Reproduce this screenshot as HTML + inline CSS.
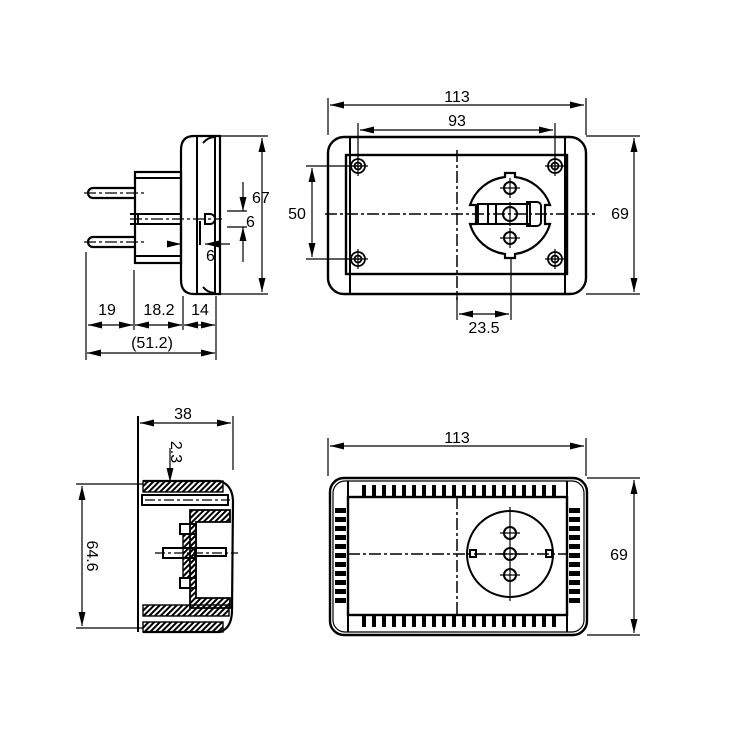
<!DOCTYPE html>
<html><head><meta charset="utf-8"><style>
html,body{margin:0;padding:0;background:#fff}
svg{display:block}
text{font-family:"Liberation Sans",Arial,sans-serif;font-size:16px;fill:#000}
</style></head><body>
<svg width="732" height="732" viewBox="0 0 732 732" xmlns="http://www.w3.org/2000/svg">
<defs>
<marker id="a" viewBox="0 0 14 7" refX="14" refY="3.5" markerWidth="14" markerHeight="7" markerUnits="userSpaceOnUse" orient="auto-start-reverse"><path d="M0,0L14,3.5L0,7z" fill="#000"/></marker>
<pattern id="h" width="4" height="4" patternUnits="userSpaceOnUse" patternTransform="rotate(45)"><rect width="2" height="4" fill="#000"/></pattern>
</defs>
<g fill="none" stroke="#000" stroke-width="2">

<!-- ===== TOP LEFT ===== -->
<path d="M194,136 L220,136 L220,294 L194,294 Q181,294 181,280 L181,150 Q181,136 194,136z" stroke-width="2.2"/>
<line x1="197" y1="136" x2="197" y2="294"/>
<line x1="215" y1="136" x2="215" y2="294"/>
<path d="M203,143 Q208,137 215,137 M203,287 Q208,293 215,293"/>
<rect x="135" y="172" width="46" height="91" stroke-width="2.2"/>
<line x1="135" y1="178" x2="181" y2="178"/>
<line x1="135" y1="256" x2="181" y2="256"/>
<path d="M135,188 L93,188 A5,5 0 0 0 93,198 L135,198" stroke-width="2.2"/>
<path d="M135,237 L93,237 A5,5 0 0 0 93,247 L135,247" stroke-width="2.2"/>
<line x1="130" y1="214" x2="181" y2="214"/>
<line x1="130" y1="224" x2="181" y2="224"/>
<line x1="138" y1="214" x2="138" y2="224"/>
<path d="M205,214 L210,214 A5,5 0 0 1 210,224 L205,224 Z"/>
<path d="M200,221 L200,245" />
<g stroke-dasharray="12,3,3,3" stroke-width="1.2">
<line x1="84" y1="193" x2="144" y2="193"/>
<line x1="84" y1="242" x2="144" y2="242"/>
<line x1="130" y1="219" x2="222" y2="219"/>
</g>
<g stroke-width="1.2">
<line x1="220" y1="136" x2="268" y2="136"/>
<line x1="220" y1="294" x2="268" y2="294"/>
<line x1="262" y1="138" x2="262" y2="292" marker-start="url(#a)" marker-end="url(#a)"/>
<line x1="227" y1="211" x2="247" y2="211"/>
<line x1="227" y1="227" x2="247" y2="227"/>
<line x1="243" y1="182" x2="243" y2="211" marker-end="url(#a)"/>
<line x1="243" y1="262" x2="243" y2="227" marker-end="url(#a)"/>
<line x1="175" y1="244" x2="181" y2="244" marker-end="url(#a)"/>
<line x1="230" y1="244" x2="205" y2="244" marker-end="url(#a)"/>
<line x1="86" y1="252" x2="86" y2="360"/>
<line x1="134" y1="270" x2="134" y2="330"/>
<line x1="183" y1="296" x2="183" y2="330"/>
<line x1="216" y1="296" x2="216" y2="360"/>
<line x1="88" y1="325" x2="133" y2="325" marker-start="url(#a)" marker-end="url(#a)"/>
<line x1="135" y1="325" x2="182" y2="325" marker-start="url(#a)" marker-end="url(#a)"/>
<line x1="184" y1="325" x2="215" y2="325" marker-start="url(#a)" marker-end="url(#a)"/>
<line x1="87" y1="353" x2="215" y2="353" marker-start="url(#a)" marker-end="url(#a)"/>
</g>

<!-- ===== TOP RIGHT ===== -->
<rect x="328" y="137" width="258" height="157" rx="16" stroke-width="2.4"/>
<rect x="346" y="155" width="221" height="119" stroke-width="2.4"/>
<line x1="350" y1="137" x2="350" y2="294"/>
<line x1="565" y1="137" x2="565" y2="294"/>
<g stroke-width="1.8">
<circle cx="358" cy="166" r="7"/><circle cx="358" cy="166" r="3.5"/>
<circle cx="555" cy="166" r="7"/><circle cx="555" cy="166" r="3.5"/>
<circle cx="358" cy="259" r="7"/><circle cx="358" cy="259" r="3.5"/>
<circle cx="555" cy="259" r="7"/><circle cx="555" cy="259" r="3.5"/>
<path d="M358,156v20M348,166h20M555,156v20M545,166h20M358,249v20M348,259h20M555,249v20M545,259h20" stroke-width="1.2"/>
</g>
<path d="M505,173 L505,177 A42,42 0 0 0 470,205 L476,205 L476,224 L470,224 A42,42 0 0 0 505,254 L505,258 L515,258 L515,254 A42,42 0 0 0 550,224 L545,224 L545,205 L550,205 A42,42 0 0 0 515,177 L515,173 Z" stroke-width="2.2"/>
<rect x="478" y="204" width="52" height="20"/>
<line x1="488" y1="204" x2="488" y2="224"/><line x1="496" y1="204" x2="496" y2="224"/>
<path d="M527,202 h10 a4,4 0 0 1 4,4 v16 a4,4 0 0 1 -4,4 h-10 z"/>
<circle cx="510" cy="188" r="6"/><circle cx="510" cy="214" r="7"/><circle cx="510" cy="238" r="6"/>
<path d="M510,178v20M500,188h20M500,238h20M510,228v20M510,202v24" stroke-width="1.2"/>
<g stroke-dasharray="12,3,3,3" stroke-width="1.5">
<line x1="457" y1="150" x2="457" y2="300"/>
<line x1="325" y1="214" x2="598" y2="214"/>
</g>
<g stroke-width="1.2">
<line x1="328" y1="98" x2="328" y2="135"/>
<line x1="586" y1="98" x2="586" y2="135"/>
<line x1="330" y1="105" x2="584" y2="105" marker-start="url(#a)" marker-end="url(#a)"/>
<line x1="358" y1="123" x2="358" y2="170"/>
<line x1="555" y1="123" x2="555" y2="170"/>
<line x1="360" y1="130" x2="553" y2="130" marker-start="url(#a)" marker-end="url(#a)"/>
<line x1="306" y1="166" x2="362" y2="166"/>
<line x1="306" y1="259" x2="362" y2="259"/>
<line x1="312" y1="168" x2="312" y2="257" marker-start="url(#a)" marker-end="url(#a)"/>
<line x1="586" y1="136" x2="640" y2="136"/>
<line x1="586" y1="294" x2="640" y2="294"/>
<line x1="634" y1="138" x2="634" y2="292" marker-start="url(#a)" marker-end="url(#a)"/>
<line x1="457" y1="294" x2="457" y2="320"/>
<line x1="511" y1="258" x2="511" y2="320"/>
<line x1="459" y1="314" x2="509" y2="314" marker-start="url(#a)" marker-end="url(#a)"/>
</g>

<!-- ===== BOTTOM LEFT ===== -->
<line x1="138" y1="416" x2="138" y2="632"/>
<line x1="233" y1="416" x2="233" y2="470" stroke-width="1.2"/>
<line x1="140" y1="423" x2="231" y2="423" stroke-width="1.2" marker-start="url(#a)" marker-end="url(#a)"/>
<line x1="170" y1="448" x2="170" y2="482" stroke-width="1.2" marker-end="url(#a)"/>
<line x1="76" y1="484" x2="143" y2="484" stroke-width="1.2"/>
<line x1="76" y1="628" x2="143" y2="628" stroke-width="1.2"/>
<line x1="82" y1="486" x2="82" y2="626" stroke-width="1.2" marker-start="url(#a)" marker-end="url(#a)"/>
<path d="M143,481 L220,481 Q232,485 233,500 L232,610 Q232,628 220,632 L143,632" stroke-width="2.2"/>
<rect x="143" y="481" width="80" height="11" fill="url(#h)" stroke-width="1.4"/>
<rect x="142" y="495" width="86" height="10"/>
<rect x="143" y="605" width="86" height="11" fill="url(#h)" stroke-width="1.4"/>
<rect x="143" y="622" width="80" height="10" fill="url(#h)" stroke-width="1.4"/>
<path d="M190,510 L230,510 L230,522 L196,522 L196,598 L230,598 L230,608 L190,608 Z" fill="url(#h)" stroke-width="1.8"/>
<rect x="180" y="524" width="16" height="10"/>
<rect x="180" y="578" width="16" height="10"/>
<rect x="183" y="534" width="13" height="44" fill="url(#h)" stroke-width="1.4"/>
<rect x="163" y="548" width="32" height="10"/>
<rect x="196" y="548" width="30" height="8"/>
<line x1="155" y1="553" x2="238" y2="553" stroke-width="1.2" stroke-dasharray="10,3,3,3"/>
<line x1="145" y1="500" x2="230" y2="500" stroke-width="1.2" stroke-dasharray="10,3,3,3"/>

<!-- ===== BOTTOM RIGHT ===== -->
<rect x="330" y="478" width="257" height="157" rx="14" stroke-width="2.4"/>
<rect x="333" y="481" width="251" height="151" rx="12" stroke-width="1.2"/>
<rect x="348" y="497" width="219" height="118" stroke-width="2.4"/>
<line x1="348" y1="481" x2="348" y2="632"/>
<line x1="567" y1="481" x2="567" y2="632"/>
<g fill="#000" stroke="none">
<path d="M362,485h4v11h-4zM372,485h4v11h-4zM382,485h4v11h-4zM392,485h4v11h-4zM402,485h4v11h-4zM412,485h4v11h-4zM422,485h4v11h-4zM432,485h4v11h-4zM442,485h4v11h-4zM452,485h4v11h-4zM462,485h4v11h-4zM472,485h4v11h-4zM482,485h4v11h-4zM492,485h4v11h-4zM502,485h4v11h-4zM512,485h4v11h-4zM522,485h4v11h-4zM532,485h4v11h-4zM542,485h4v11h-4zM552,485h4v11h-4z"/>
<path d="M362,616h4v11h-4zM372,616h4v11h-4zM382,616h4v11h-4zM392,616h4v11h-4zM402,616h4v11h-4zM412,616h4v11h-4zM422,616h4v11h-4zM432,616h4v11h-4zM442,616h4v11h-4zM452,616h4v11h-4zM462,616h4v11h-4zM472,616h4v11h-4zM482,616h4v11h-4zM492,616h4v11h-4zM502,616h4v11h-4zM512,616h4v11h-4zM522,616h4v11h-4zM532,616h4v11h-4zM542,616h4v11h-4zM552,616h4v11h-4z"/>
<path d="M335,508h11v5h-11zM335,517h11v5h-11zM335,526h11v5h-11zM335,535h11v5h-11zM335,544h11v5h-11zM335,553h11v5h-11zM335,562h11v5h-11zM335,571h11v5h-11zM335,580h11v5h-11zM335,589h11v5h-11zM335,598h11v5h-11z"/>
<path d="M569,508h11v5h-11zM569,517h11v5h-11zM569,526h11v5h-11zM569,535h11v5h-11zM569,544h11v5h-11zM569,553h11v5h-11zM569,562h11v5h-11zM569,571h11v5h-11zM569,580h11v5h-11zM569,589h11v5h-11zM569,598h11v5h-11z"/>
</g>
<circle cx="510" cy="554" r="43" stroke-width="2"/>
<rect x="470" y="550" width="6" height="7"/><rect x="546" y="550" width="6" height="7"/>
<circle cx="510" cy="533" r="6"/><circle cx="510" cy="554" r="6"/><circle cx="510" cy="575" r="6"/>
<path d="M510,507v94M500,533h20M500,554h20M500,575h20" stroke-width="1.2"/>
<g stroke-dasharray="12,3,3,3" stroke-width="1.5">
<line x1="457" y1="497" x2="457" y2="615"/>
<line x1="348" y1="554" x2="567" y2="554"/>
</g>
<g stroke-width="1.2">
<line x1="328" y1="438" x2="328" y2="476"/>
<line x1="586" y1="438" x2="586" y2="476"/>
<line x1="330" y1="446" x2="584" y2="446" marker-start="url(#a)" marker-end="url(#a)"/>
<line x1="587" y1="478" x2="640" y2="478"/>
<line x1="587" y1="635" x2="640" y2="635"/>
<line x1="634" y1="480" x2="634" y2="633" marker-start="url(#a)" marker-end="url(#a)"/>
</g>
</g>

<g>
<text x="107" y="315" text-anchor="middle">19</text>
<text x="159" y="315" text-anchor="middle">18.2</text>
<text x="200" y="315" text-anchor="middle">14</text>
<text x="152" y="348" text-anchor="middle">(51.2)</text>
<text x="252" y="203">67</text>
<text x="246" y="227">6</text>
<text x="206" y="261">6</text>
<text x="457" y="102" text-anchor="middle">113</text>
<text x="457" y="126" text-anchor="middle">93</text>
<text x="297" y="219" text-anchor="middle">50</text>
<text x="620" y="219" text-anchor="middle">69</text>
<text x="484" y="333" text-anchor="middle">23.5</text>
<text x="183" y="419" text-anchor="middle">38</text>
<text transform="translate(171,452) rotate(90)" text-anchor="middle">2.3</text>
<text transform="translate(87,556) rotate(90)" text-anchor="middle">64.6</text>
<text x="457" y="443" text-anchor="middle">113</text>
<text x="619" y="560" text-anchor="middle">69</text>
</g>
</svg>
</body></html>
